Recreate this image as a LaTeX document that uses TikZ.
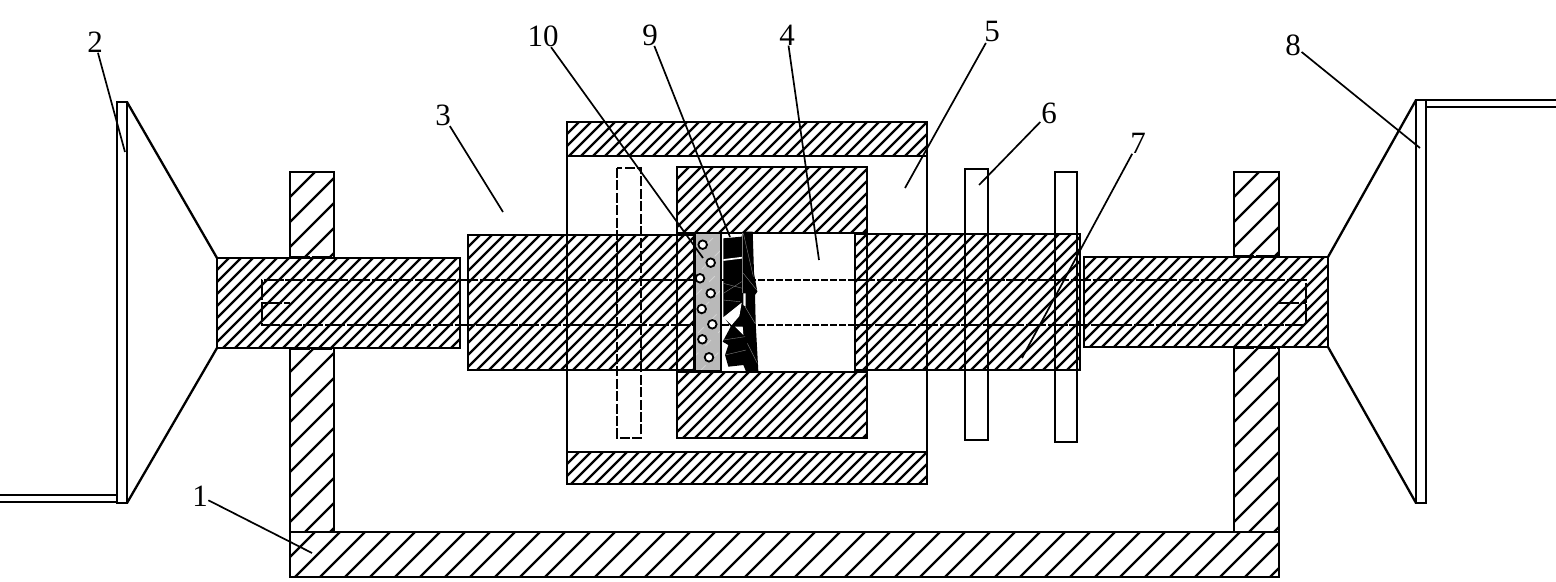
\documentclass[tikz,border=0pt]{standalone}
\usepackage{fontspec}
\setmainfont{Liberation Serif}
\tikzset{
  part/.style={line width=1.15pt},
  hatchline/.style={line width=1.1pt},
  hidden/.style={line width=1pt,dash pattern=on 10pt off 0.8pt},
  shortdash/.style={line width=1.15pt,dash pattern=on 3.5pt off 1pt},
  leader/.style={line width=0.85pt,shorten <=-1pt},
  numlabel/.style={inner sep=1pt,font=\fontsize{15.5}{16}\selectfont},
}
% hatched rectangle: x1,y1,x2,y2,spacing
\newcommand{\hatchrect}[5]{
  \fill[white] (#1,#2) rectangle (#3,#4);
  \begin{scope}
    \clip (#1,#2) rectangle (#3,#4);
    \pgfmathsetmacro{\hgt}{#4-#2}
    \pgfmathsetmacro{\first}{#1-\hgt}
    \pgfmathsetmacro{\second}{#1-\hgt+#5}
    \foreach \k in {\first,\second,...,#3}
      \draw[hatchline] (\k,#4) -- (\k+\hgt,#2);
  \end{scope}
  \draw[part] (#1,#2) rectangle (#3,#4);
}
\begin{document}
\begin{tikzpicture}[x=0.5pt,y=-0.5pt]
  \useasboundingbox (0,0) rectangle (1556,582);

  % draw frame
  \hatchrect{290}{532}{1279}{577}{25}
  \hatchrect{290}{172}{334}{532}{25}
  \hatchrect{1234}{172}{1279}{532}{25}

  % draw left and right shafts
  \hatchrect{217}{258}{460}{348}{12}
  \hatchrect{1084}{257}{1328}{347}{12}

  % draw plates and cones
  \draw[part] (117,102) rectangle (127,503);
  \draw[part] (1416,100) rectangle (1426,503);
  \draw[part] (127,102) -- (217,258);
  \draw[part] (127,503) -- (217,348);
  \draw[part] (1416,100) -- (1328,257);
  \draw[part] (1416,503) -- (1328,347);
  \draw[part] (0,495) -- (117,495);
  \draw[part] (0,502) -- (117,502);
  \draw[part] (1426,100) -- (1556,100);
  \draw[part] (1426,107) -- (1556,107);

  % draw central shaft
  \hatchrect{468}{235}{694}{370}{12}
  \hatchrect{855}{234}{1080}{370}{12}

  % draw box
  \draw[part] (567,122) rectangle (927,484);
  \hatchrect{567}{122}{927}{156}{12}
  \hatchrect{567}{452}{927}{484}{12}
  \hatchrect{677}{167}{867}{233}{12}
  \hatchrect{677}{372}{867}{438}{12}
  \fill[white] (695,234) rectangle (854,371);
  \draw[part] (677,233) -- (677,372);
  \draw[part] (694,233) -- (694,372);
  \draw[part] (855,233) -- (855,372);
  \draw[part] (867,233) -- (867,372);

  % draw plates on the shaft
  \draw[part,dash pattern=on 5pt off 1.2pt] (617,168) rectangle (641,438);
  \draw[part] (965,169) rectangle (988,440);
  \draw[part] (1055,172) rectangle (1077,442);

  % draw inner bore
  \draw[hidden] (694,280) -- (262,280) -- (262,325) -- (694,325);
  \draw[hidden] (855,280) -- (1306,280) -- (1306,325) -- (855,325);
  \draw[shortdash] (722,280) -- (855,280);
  \draw[shortdash] (722,325) -- (855,325);
  \draw[hidden] (262,303) -- (290,303);
  \draw[hidden] (1279,303) -- (1306,303);
  \draw[hidden] (290,257) -- (334,257);
  \draw[hidden] (290,349) -- (334,349);
  \draw[hidden] (1234,256) -- (1279,256);
  \draw[hidden] (1234,348) -- (1279,348);

  % draw filter
  \fill[gray!55] (695,233) rectangle (721,371);
  \begin{scope}
    \clip (695,233) rectangle (721,371);
    \foreach \k in {560,580,...,720}
      \draw[gray!35,line width=0.4pt,dash pattern=on 4pt off 5pt] (\k,371) -- (\k+138,233);
  \end{scope}
  \draw[part] (695,233) rectangle (721,371);
  \foreach \cx/\cy in {702.7/244.7,710.7/262.7,700/278.3,710.7/293.3,701.7/309,712.3/324.3,702.3/339.3,709/357.3}
    \draw[line width=0.9pt,fill=white] (\cx,\cy) circle (4.3);

  % draw black grains
  \begin{scope}[shift={(660,210)},x=0.1667pt,y=-0.1667pt]
    \fill (190,85) -- (245,80) -- (248,65) -- (278,65) -- (282,190) -- (292,245)
      -- (285,255) -- (287,340) -- (295,485) -- (258,485) -- (250,465) -- (205,470)
      -- (195,435) -- (205,405) -- (188,395) -- (212,350) -- (195,325) -- (190,320) -- cycle;
    \fill[white] (190,322) -- (245,278) -- (238,318) -- (215,345) -- cycle;
    \fill[white] (225,350) -- (250,375) -- (248,350) -- cycle;
    \fill[white] (250,250) -- (257,250) -- (257,290) -- (250,285) -- cycle;
    \draw[white,line width=0.85pt] (190,150) -- (247,143);
    \foreach \ax/\ay/\bx/\by in {248/70/248/250,250/70/280/200,250/190/290/240,190/220/248/235,255/290/285/340,190/270/240/275,190/390/255/380,195/435/258/420,262/400/292/460,190/250/245/215}
      \draw[gray,line width=0.2pt] (\ax,\ay) -- (\bx,\by);
  \end{scope}

  % draw labels
  \node[numlabel] (lab1) at (200,496) {1};
  \node[numlabel] (lab2) at (95,42) {2};
  \node[numlabel] (lab3) at (443,115) {3};
  \node[numlabel] (lab4) at (787,35) {4};
  \node[numlabel] (lab5) at (992,32) {5};
  \node[numlabel] (lab6) at (1049,113) {6};
  \node[numlabel] (lab7) at (1138,143) {7};
  \node[numlabel] (lab8) at (1293,45) {8};
  \node[numlabel] (lab9) at (650,35) {9};
  \node[numlabel] (lab10) at (543,36) {10};

  % draw leaders
  \foreach \n/\tx/\ty in {1/312/553,2/125/152,3/503/212,4/819/260,5/905/188,6/979/185,7/1022/358,8/1420/148,9/730/237,10/703/258}{
    \coordinate (tip\n) at (\tx,\ty);
    \draw[leader] (lab\n) -- (tip\n);
  }
\end{tikzpicture}
\end{document}
